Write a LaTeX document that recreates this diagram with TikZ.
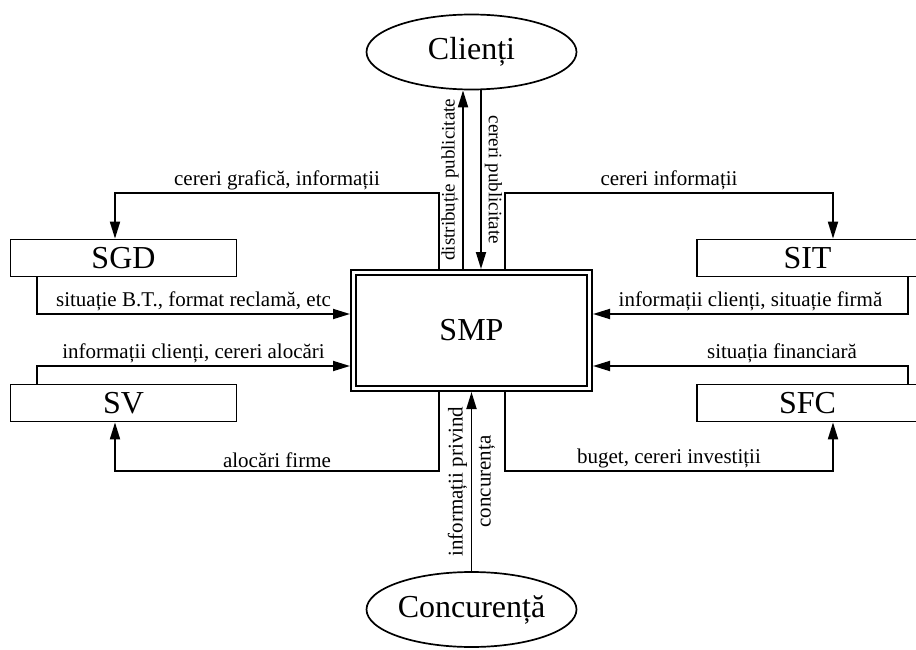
\documentclass[tikz,border=0pt]{standalone}
\usepackage{fontspec}
\setmainfont{Liberation Serif}
\usetikzlibrary{positioning, calc, shapes.geometric, arrows.meta}

\begin{document}
\begin{tikzpicture}[
    x=1pt, y=-1pt,
    sysbox/.style={rectangle, draw, line width=1.7pt, minimum width=226pt,
                   minimum height=37pt, inner sep=0pt,
                   font=\fontsize{32}{34}\selectfont},
    ellbox/.style={ellipse, draw, line width=1.7pt, minimum width=210pt,
                   minimum height=75pt, inner sep=0pt,
                   font=\fontsize{32}{34}\selectfont},
    mainbox/.style={rectangle, draw, double, line width=2.2pt, double distance=2.4pt,
                    minimum width=236pt, minimum height=116pt, outer sep=3.5pt,
                    font=\fontsize{32}{34}\selectfont},
    arrow/.style={-{Triangle[length=17pt,width=10pt]}, line width=1.8pt},
    lbl/.style={font=\fontsize{21}{28}\selectfont, inner sep=2.5pt},
    vlbl/.style={font=\fontsize{19}{22}\selectfont, inner sep=3.5pt},
  ]
    \useasboundingbox (0,0) rectangle (916,650);

    \node[mainbox] (SMP) at (471.5,330.5) {SMP};
    \node[ellbox] (Clienti) at (471.5,52) {Clienți};
    \node[ellbox] (Concurenta) at (471.5,609.5) {Concurență};
    \node[sysbox] (SGD) at (123.5,258) {SGD};
    \node[sysbox] (SV) at (123.5,403) {SV};
    \node[sysbox, minimum width=221pt] (SIT) at (807.5,258) {SIT};
    \node[sysbox, minimum width=221pt] (SFC) at (807.5,403) {SFC};

    % iesiri spre subsisteme
    \draw[arrow] ([xshift=-32.5pt]SMP.north) -- ++(0,-76)
          -| node[lbl, pos=0.25, above] {cereri grafică, informații}
          ([xshift=-8.5pt]SGD.north);
    \draw[arrow] ([xshift=33.5pt]SMP.north) -- ++(0,-76)
          -| node[lbl, pos=0.25, above] {cereri informații}
          ([xshift=25.5pt]SIT.north);
    \draw[arrow] ([xshift=-32.5pt]SMP.south) -- ++(0,79)
          -| node[lbl, pos=0.25, above] {alocări firme}
          ([xshift=-8.5pt]SV.south);
    \draw[arrow] ([xshift=33.5pt]SMP.south) -- ++(0,79)
          -| node[lbl, pos=0.25, above] {buget, cereri investiții}
          ([xshift=25.5pt]SFC.south);

    % intrari in SMP
    \draw[arrow] ([xshift=-86.5pt]SGD.south)
          |- node[lbl, pos=0.75, above] {situație B.T., format reclamă, etc}
          ([yshift=16.5pt]SMP.west);
    \draw[arrow] ([xshift=-86.5pt]SV.north)
          |- node[lbl, pos=0.75, above] {informații clienți, cereri alocări}
          ([yshift=-35.5pt]SMP.west);
    \draw[arrow] ([xshift=100.5pt]SIT.south)
          |- node[lbl, pos=0.75, above] {informații clienți, situație firmă}
          ([yshift=16.5pt]SMP.east);
    \draw[arrow] ([xshift=100.5pt]SFC.north)
          |- node[lbl, pos=0.7, above] {situația financiară}
          ([yshift=-35.5pt]SMP.east);

    % clienti si concurenta
    \draw[arrow] ([xshift=-8.5pt]SMP.north) -- ([xshift=-8.5pt]Clienti.south)
          node[vlbl, midway, above, rotate=90] {distribuție publicitate};
    \draw[arrow] ([xshift=9.5pt]Clienti.south) -- ([xshift=9.5pt]SMP.north)
          node[vlbl, midway, above, rotate=-90, inner sep=3pt] {cereri publicitate};
    \draw[arrow] (Concurenta) -- (SMP)
          node[lbl, midway, rotate=90, align=center] {informații privind\\concurența};
  \end{tikzpicture}
\end{document}
